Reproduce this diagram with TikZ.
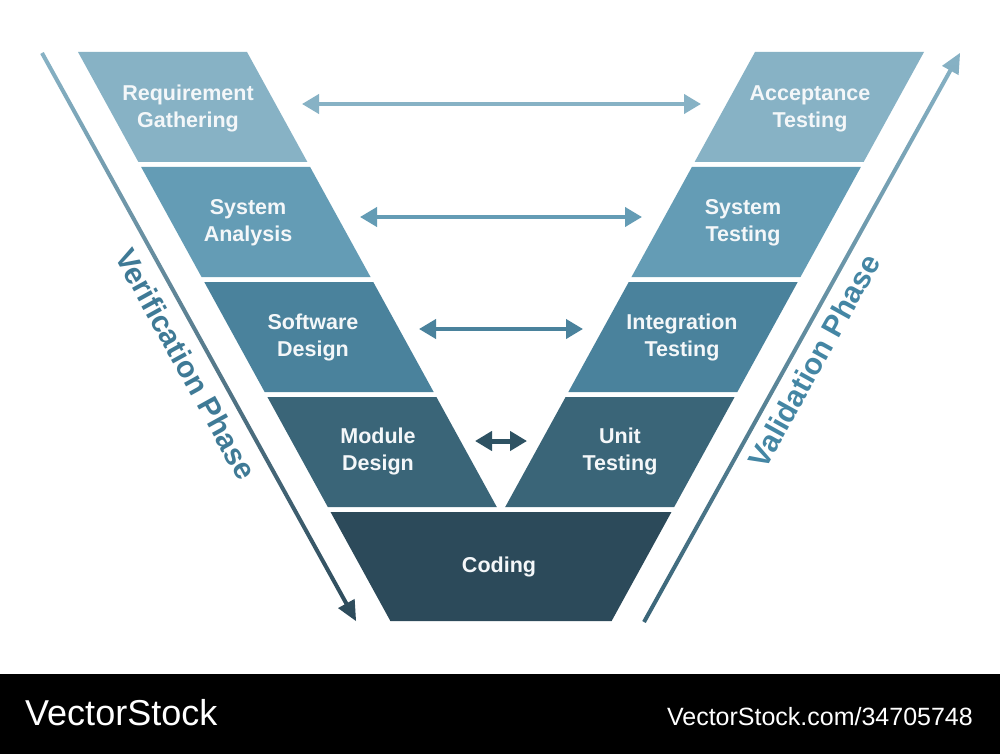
\documentclass[tikz,border=0pt]{standalone}
\usepackage{fontspec}
\setmainfont{Noto Sans}
\newfontfamily\boxfont{Liberation Sans Bold}
\newfontfamily\phasefont{Liberation Sans Bold}
\newfontfamily\wmfont{Liberation Sans}
\usetikzlibrary{arrows.meta,calc}
\definecolor{cA}{HTML}{87B2C5}
\definecolor{cB}{HTML}{649CB5}
\definecolor{cC}{HTML}{4A829C}
\definecolor{cD}{HTML}{3A6578}
\definecolor{cE}{HTML}{2C4A5A}
\definecolor{cArrowD}{HTML}{2E5263}
\definecolor{boxtext}{HTML}{F4F7F9}
\definecolor{cVer}{HTML}{3F7A96}
\definecolor{cVal}{HTML}{4486A4}
\tikzset{
  lbl/.style={text=boxtext, align=center, inner sep=0pt, font=\boxfont\fontsize{21.5}{27}\selectfont},
  harrow/.style={line width=4pt, {Triangle[length=17pt,width=19pt]}-{Triangle[length=17pt,width=19pt]}},
  phase/.style={inner sep=0pt, font=\phasefont\fontsize{30}{34}\selectfont},
  wm/.style={text=white, inner sep=0pt},
}
\begin{document}
\begin{tikzpicture}[x=1pt,y=-1pt]
\fill[white] (0,0) rectangle (1000,754);
\useasboundingbox (0,0) rectangle (1000,754);
% bands
\foreach \t/\b/\c in {52/162/cA,167/277/cB,282/392/cC,397/507/cD}{
  \fill[\c] ({78+0.549*(\t-52)},\t) -- ({247+0.549*(\t-52)},\t) -- ({247+0.549*(\b-52)},\b) -- ({78+0.549*(\b-52)},\b) -- cycle;
  \fill[\c] ({924-0.549*(\t-52)},\t) -- ({755-0.549*(\t-52)},\t) -- ({755-0.549*(\b-52)},\b) -- ({924-0.549*(\b-52)},\b) -- cycle;
}
\fill[cE] ({78+0.549*460},512) -- ({924-0.549*460},512) -- ({924-0.549*569},621) -- ({78+0.549*569},621) -- cycle;
% labels
\node[lbl] (req) at (188,108.5) {Requirement\\Gathering};
\node[lbl] (sysa) at (248,223) {System\\Analysis};
\node[lbl] (swd) at (313,337.5) {Software\\Design};
\node[lbl] (mod) at (378,451.5) {Module\\Design};
\node[lbl] (cod) at (499,567) {Coding};
\node[lbl] (acc) at (810,108.5) {Acceptance\\Testing};
\node[lbl] (syst) at (743,223) {System\\Testing};
\node[lbl] (integ) at (682,337.5) {Integration\\Testing};
\node[lbl] (unit) at (620,451.5) {Unit\\Testing};
% horizontal arrows
\coordinate (a1l) at (302,104); \coordinate (a1r) at (701,104);
\coordinate (a2l) at (360,217); \coordinate (a2r) at (642,217);
\coordinate (a3l) at (419,329); \coordinate (a3r) at (583,329);
\coordinate (a4l) at (475,441); \coordinate (a4r) at (527,441);
\draw[harrow, cA] (a1l) -- (a1r);
\draw[harrow, cB] (a2l) -- (a2r);
\draw[harrow, cC] (a3l) -- (a3r);
\draw[harrow, cArrowD, line width=5pt] (a4l) -- (a4r);
% side arrows
\coordinate (vs) at (42,53); \coordinate (ve) at (356,621);
\coordinate (vh) at ($(ve)!20pt!(vs)$);
\shade[top color=cA, bottom color=cE] ($(vs)!2pt!90:(ve)$) -- ($(vh)!2pt!90:(ve)$) -- ($(vh)!9.5pt!90:(ve)$) -- (ve) -- ($(vh)!9.5pt!-90:(ve)$) -- ($(vh)!2pt!-90:(ve)$) -- ($(vs)!2pt!-90:(ve)$) -- cycle;
\coordinate (rs) at (644,622); \coordinate (re) at (960,53);
\coordinate (rh) at ($(re)!20pt!(rs)$);
\shade[top color=cA, bottom color=cD] ($(rs)!2pt!90:(re)$) -- ($(rh)!2pt!90:(re)$) -- ($(rh)!9.5pt!90:(re)$) -- (re) -- ($(rh)!9.5pt!-90:(re)$) -- ($(rh)!2pt!-90:(re)$) -- ($(rs)!2pt!-90:(re)$) -- cycle;
\node[phase, text=cVer, rotate=-61.06] (verif) at (186,364) {Verification Phase};
\node[phase, text=cVal, rotate=60.95] (valid) at (814,361) {Validation Phase};
% watermark bar
\fill[black] (0,674) rectangle (1000,754);
\node[wm, anchor=base west, font=\wmfont\fontsize{36}{40}\selectfont] (wm1) at (25,725) {VectorStock};
\node[wm, anchor=base east, font=\wmfont\fontsize{25}{30}\selectfont] (wm2) at (973,725) {VectorStock.com/34705748};
\end{tikzpicture}
\end{document}
